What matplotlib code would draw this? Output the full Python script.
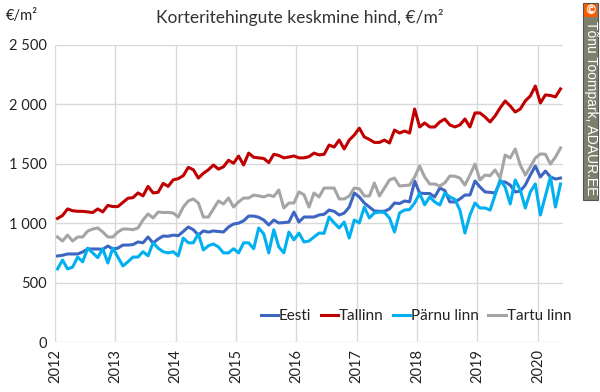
import numpy as np
import matplotlib
matplotlib.use("Agg")
import matplotlib.pyplot as plt
from matplotlib.ticker import FuncFormatter
from matplotlib.patches import Rectangle

# monthly averages, Jan 2012 .. May 2020 (EUR per m2)
eesti = [
    724, 730, 741, 741, 741, 758, 783, 783, 783, 780, 808, 783,
    790, 816, 816, 820, 842, 835, 884, 833, 867, 892, 890, 900,
    895, 930, 968, 945, 900, 935, 925, 935, 930, 926, 968, 993,
    1000, 1020, 1060, 1060, 1050, 1027, 985, 1027, 1002, 1005, 1010, 1094,
    1010, 1052, 1052, 1052, 1069, 1075, 1111, 1100, 1069, 1085, 1136, 1254,
    1221, 1170, 1136, 1103, 1100, 1100, 1120, 1170, 1165, 1187, 1180, 1355,
    1254, 1250, 1250, 1221, 1296, 1275, 1179, 1179, 1204, 1237, 1237, 1355,
    1305, 1263, 1260, 1254, 1347, 1347, 1321, 1263, 1270, 1321, 1405, 1481,
    1389, 1439, 1389, 1372, 1380,
]
tallinn = [
    1040, 1065, 1120, 1105, 1100, 1100, 1095, 1090, 1120, 1095, 1150, 1140,
    1140, 1175, 1210, 1215, 1255, 1230, 1310, 1255, 1260, 1335, 1310, 1365,
    1375, 1400, 1470, 1450, 1380, 1420, 1450, 1490, 1455, 1475, 1530, 1505,
    1565, 1490, 1590, 1555, 1550, 1545, 1510, 1580, 1570, 1550, 1557, 1566,
    1550, 1550, 1560, 1590, 1575, 1580, 1658, 1641, 1700, 1625, 1700, 1742,
    1800, 1726, 1705, 1680, 1680, 1700, 1675, 1784, 1759, 1776, 1759, 1961,
    1810, 1844, 1810, 1810, 1852, 1877, 1827, 1810, 1827, 1877, 1810, 1928,
    1928, 1894, 1852, 1903, 1970, 2029, 1987, 1936, 1961, 2029, 2071, 2155,
    2012, 2080, 2075, 2063, 2130,
]
parnu = [
    615, 690, 615, 630, 715, 675, 790, 750, 710, 785, 665, 790,
    715, 640, 675, 715, 715, 760, 725, 835, 790, 760, 750, 760,
    725, 875, 835, 835, 910, 775, 810, 825, 800, 750, 750, 785,
    750, 835, 835, 785, 960, 910, 750, 945, 800, 750, 925, 860,
    917, 842, 850, 884, 917, 915, 1052, 1002, 960, 1010, 875, 1027,
    1002, 1136, 1044, 1086, 1094, 1090, 1044, 926, 1086, 1111, 1115, 1170,
    1250, 1155, 1221, 1179, 1153, 1254, 1221, 1200, 1111, 917, 1069, 1170,
    1128, 1128, 1111, 1237, 1364, 1305, 1162, 1364, 1280, 1128, 1263, 1330,
    1069, 1229, 1389, 1136, 1330,
]
tartu = [
    884, 850, 900, 850, 884, 884, 934, 951, 960, 926, 884, 884,
    926, 951, 951, 945, 960, 1027, 1078, 1044, 1094, 1090, 1090, 1086,
    1052, 1136, 1187, 1204, 1170, 1052, 1052, 1120, 1187, 1162, 1212, 1136,
    1179, 1212, 1212, 1237, 1230, 1221, 1237, 1225, 1280, 1128, 1170, 1170,
    1263, 1240, 1136, 1254, 1221, 1296, 1296, 1296, 1204, 1204, 1229, 1296,
    1290, 1229, 1229, 1338, 1229, 1296, 1364, 1380, 1313, 1317, 1321, 1389,
    1481, 1389, 1330, 1330, 1313, 1340, 1397, 1395, 1380, 1321, 1405, 1498,
    1364, 1405, 1400, 1448, 1380, 1574, 1549, 1625, 1490, 1405, 1473, 1549,
    1583, 1580, 1498, 1557, 1633,
]
series_names = ['Eesti', 'Tallinn', 'Pärnu linn', 'Tartu linn']
series_colors = ['#3D66C3', '#C00000', '#00B0F0', '#A5A5A5']
years = list(range(2012, 2021))
y_ticks = [0, 500, 1000, 1500, 2000, 2500]

FONT = ['Lato', 'DejaVu Sans']
plt.rcParams['font.family'] = FONT

months = np.arange(len(eesti))
x = 2012 + (months + 0.5) / 12.0

fig = plt.figure(figsize=(6.0, 3.92), dpi=100)
ax = fig.add_axes([55 / 600, 1 - 342 / 392, (563 - 55) / 600, (342 - 45) / 392])

for vals, name, col in zip([eesti, tallinn, parnu, tartu], series_names, series_colors):
    ax.plot(x, vals, color=col, linewidth=2.2, label=name, solid_joinstyle='round')

ax.set_xlim(2012, 2020 + 5 / 12.0)
ax.set_ylim(0, 2500)
ax.set_xticks(years)
ax.set_xticklabels([str(y) for y in years], rotation=90, fontsize=10.5, color='#222222')
ax.set_yticks(y_ticks)
ax.yaxis.set_major_formatter(FuncFormatter(lambda v, p: f'{int(v):,}'.replace(',', ' ')))
ax.tick_params(axis='y', labelsize=10.5, labelcolor='#222222', length=0, pad=6)
ax.tick_params(axis='x', length=0, pad=5)
ax.grid(True, color='#D9D9D9', linewidth=1.0)
ax.set_axisbelow(True)
for s in ax.spines.values():
    s.set_visible(False)

fig.text(0.5, 1 - 18 / 392, 'Korteritehingute keskmine hind, €/m²', ha='center', va='center',
         fontsize=12.5, color='#333333')
fig.text(22 / 600, 1 - 16 / 392, '€/m²', ha='center', va='center', fontsize=10.5, color='#222222')

ax.legend(loc='center right', bbox_to_anchor=(1.028, 0.088), ncol=4, frameon=False,
          fontsize=11, handlelength=1.15, handletextpad=0.05, columnspacing=0.6,
          borderaxespad=0, labelcolor='#222222')

# copyright badge on the right edge
fig.patches.append(Rectangle((583 / 600, 1 - 200 / 392), 15 / 600, 197 / 392,
                             transform=fig.transFigure, facecolor='#7F7F6E',
                             edgecolor='#555555', linewidth=0.8))
fig.patches.append(Rectangle((584 / 600, 1 - 17 / 392), 13 / 600, 13 / 392,
                             transform=fig.transFigure, facecolor='#FF5A00',
                             edgecolor='none'))
fig.text(590.5 / 600, 1 - 10.5 / 392, '©', ha='center', va='center', fontsize=9,
         color='white', fontweight='bold', family=['DejaVu Sans'])
fig.text(590.5 / 600, 1 - 108 / 392, 'Tõnu Toompark, ADAUR.EE', ha='center', va='center',
         rotation=270, fontsize=10, color='white', family=['Liberation Sans', 'DejaVu Sans'])

fig.savefig('out.png', dpi=100)
